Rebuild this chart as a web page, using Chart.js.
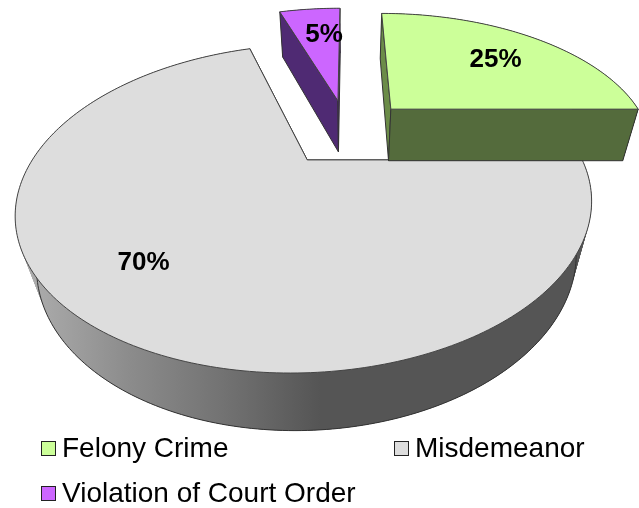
<!DOCTYPE html>
<html>
<head>
<meta charset="utf-8">
<style>
  html, body { margin: 0; padding: 0; background: #fff; }
  #wrap { position: relative; width: 639px; height: 508px; overflow: hidden; }
  .legend-wrapper {
    position: absolute; left: 41px; top: 425px;
    display: grid; grid-template-columns: 353px auto; grid-auto-rows: 45.5px;
    font: 28px "Liberation Sans", Arial, sans-serif; color: #000;
  }
  .legend-item { display: flex; align-items: center; white-space: nowrap; }
  .legend-dot { width: 13px; height: 13px; border: 1.5px solid #222; margin-right: 6px; margin-top: 1px; }
</style>
</head>
<body>
<div id="wrap">
  <canvas id="crimeChart" width="639" height="508"></canvas>
  <div class="legend-wrapper"></div>
</div>
<script src="https://cdn.jsdelivr.net/npm/chart.js@4"></script>
<script>
const categories = ["Felony Crime", "Misdemeanor", "Violation of Court Order"];
const shares = [25, 70, 5];
const faceColors = ["#CCFF99", "#DDDDDD", "#CC66FF"];
const sideColors = ["#546B3C", "#555555", "#4F2A73"];
const startWallColors = ["#6B8C48", "#555555", "#4F2A73"];
const paintOrder = [1, 2, 0]; // green sits over the grey face
const labelNudge = [[3, 3], [-22, 3], [7, 2]];

// tilted view of the pie plane, fitted to the picture
const view = { cx: 347.4, cy: 131.5, a: 259.5, b: 133.5, k: 0.28, m: 0.0588, d: 55.8 };

function project(u, v, w) {
  const den = 1 + view.k * v + view.m * w;
  return [view.cx + (view.a * u) / den, view.cy + (-view.b * v + view.d * w) / den];
}

function tracePath(ctx, points) {
  ctx.beginPath();
  points.forEach((p, i) => (i ? ctx.lineTo(p[0], p[1]) : ctx.moveTo(p[0], p[1])));
}

function fillStroke(ctx, points, fill, stroke) {
  tracePath(ctx, points);
  ctx.closePath();
  ctx.fillStyle = fill;
  ctx.fill();
  ctx.strokeStyle = stroke;
  ctx.stroke();
}

function sliceGeometry(arc) {
  const { startAngle, endAngle, outerRadius } = arc.getProps(["startAngle", "endAngle", "outerRadius"], true);
  const mid = (startAngle + endAngle) / 2;
  const shift = arc.options.offset / outerRadius;
  const ou = Math.cos(mid) * shift;
  const ov = -Math.sin(mid) * shift;
  const steps = Math.ceil(((endAngle - startAngle) * 180) / Math.PI);
  const rim = [];
  for (let i = 0; i <= steps; i++) {
    const t = startAngle + ((endAngle - startAngle) * i) / steps;
    rim.push([ou + Math.cos(t), ov - Math.sin(t)]);
  }
  return { mid, ou, ov, rim };
}

function drawSlice(ctx, arc, index) {
  const { ou, ov, rim } = sliceGeometry(arc);
  const topRim = rim.map((p) => project(p[0], p[1], 0));
  const lowRim = rim.map((p) => project(p[0], p[1], 1));
  const apexTop = project(ou, ov, 0);
  const apexLow = project(ou, ov, 1);
  const last = rim.length - 1;

  let sideFill = sideColors[index];
  if (index === 1) {
    // the big slice fades from light on the left to dark in the middle
    sideFill = ctx.createLinearGradient(25, 0, 320, 0);
    sideFill.addColorStop(0, "#AEAEAE");
    sideFill.addColorStop(0.35, "#8C8C8C");
    sideFill.addColorStop(0.7, "#707070");
    sideFill.addColorStop(1, "#555555");
  }

  // outer wall, overlapping quads so no seams show
  ctx.fillStyle = sideFill;
  for (let i = 0; i < last; i++) {
    const j = Math.min(i + 3, last);
    tracePath(ctx, [topRim[i], topRim[j], lowRim[j], lowRim[i]]);
    ctx.closePath();
    ctx.fill();
  }
  ctx.lineWidth = 1;
  ctx.strokeStyle = "#333";
  tracePath(ctx, lowRim);
  ctx.stroke();

  // the two cut walls
  fillStroke(ctx, [apexTop, topRim[0], lowRim[0], apexLow], startWallColors[index], "#333");
  fillStroke(ctx, [apexTop, topRim[last], lowRim[last], apexLow], sideColors[index], "#333");

  // top face
  fillStroke(ctx, [apexTop, ...topRim], faceColors[index], "#444");
}

function drawLabel(ctx, arc, index) {
  const { mid, ou, ov } = sliceGeometry(arc);
  const p = project(ou + Math.cos(mid) * 0.69, ov - Math.sin(mid) * 0.69, 0);
  ctx.fillStyle = "#000";
  ctx.font = 'bold 26px "Liberation Sans", Arial, sans-serif';
  ctx.textAlign = "center";
  ctx.textBaseline = "middle";
  ctx.fillText(shares[index] + "%", p[0] + labelNudge[index][0], p[1] + labelNudge[index][1]);
}

const tiltedPie = {
  id: "tiltedPie",
  beforeDatasetDraw(chart, args) {
    const ctx = chart.ctx;
    ctx.save();
    ctx.lineJoin = "round";
    paintOrder.forEach((i) => drawSlice(ctx, args.meta.data[i], i));
    paintOrder.forEach((i) => drawLabel(ctx, args.meta.data[i], i));
    ctx.restore();
    return false; // skip the flat arcs
  },
};

new Chart(document.getElementById("crimeChart"), {
  type: "pie",
  data: {
    labels: categories,
    datasets: [
      {
        data: shares,
        backgroundColor: faceColors,
        borderColor: "#444",
        borderWidth: 1,
        offset: 56,
      },
    ],
  },
  options: {
    responsive: false,
    animation: false,
    plugins: {
      legend: { display: false },
      tooltip: { enabled: false },
    },
  },
  plugins: [tiltedPie],
});

function updateLegend() {
  const legendContainer = document.querySelector(".legend-wrapper");
  categories.forEach((name, index) => {
    const legendItem = document.createElement("div");
    legendItem.classList.add("legend-item");
    legendItem.innerHTML = `
      <span class="legend-dot" style="background-color: ${faceColors[index]};"></span>
      <span class="legend-text">${name}</span>
    `;
    legendContainer.appendChild(legendItem);
  });
}

updateLegend();
</script>
</body>
</html>
